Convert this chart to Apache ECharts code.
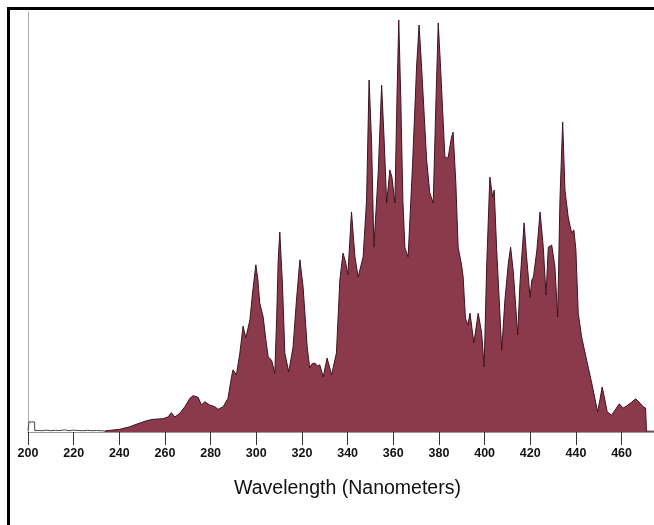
<!DOCTYPE html>
<html>
<head>
<meta charset="utf-8">
<script src="https://cdn.jsdelivr.net/npm/echarts@6/dist/echarts.min.js"></script>
<style>
html,body{margin:0;padding:0;background:#fff;overflow:hidden;}
#chart{position:absolute;left:0;top:0;width:654px;height:525px;}
#frame{position:absolute;left:7px;top:7px;width:800px;height:700px;border-top:3px solid #000;border-left:3px solid #000;pointer-events:none;}
</style>
</head>
<body>
<div id="chart"></div>
<div id="frame"></div>
<script>
// Baseline noise trace (200–234 nm), relative intensity (%)
const noiseWavelengths = [200, 200.4, 200.45, 202.9, 202.95, 204, 206, 208, 210, 212, 214, 216, 218, 220, 222, 224, 226, 228, 230, 232, 233.6];
const noiseValues      = [0.3, 0.3, 2.4, 2.4, 0.3, 0.4, 0.3, 0.45, 0.3, 0.4, 0.35, 0.5, 0.3, 0.45, 0.35, 0.3, 0.4, 0.3, 0.35, 0.3, 0.24];

// Emission spectrum (233.6–474 nm), relative intensity (%)
const wavelengths = [
  233.6, 240.2, 244.6, 249.0, 251.9, 254.8, 259.2, 261.3, 262.8, 264.3,
  266.5, 268.7, 270.9, 272.3, 274.5, 276.0, 277.4, 279.6, 281.8, 283.3,
  285.5, 287.6, 289.1, 289.8, 291.3, 292.8, 294.2, 295.4, 297.2, 298.5,
  299.8, 300.7, 301.5, 303.0, 304.2, 305.2, 306.7, 308.1, 308.9, 309.6,
  310.3, 311.5, 312.5, 314.2, 316.1, 317.6, 319.1, 320.5, 322.3, 323.4,
  324.3, 325.6, 326.9, 327.8, 329.3, 331.0, 333.0, 335.1, 336.6, 338.0,
  339.2, 340.1, 341.7, 343.2, 344.6, 346.8, 348.3, 349.4, 350.5, 351.5,
  353.4, 354.9, 356.0, 357.1, 358.5, 359.4, 360.7, 361.6, 362.4, 363.3,
  364.2, 365.1, 366.5, 368.4, 370.2, 371.3, 372.4, 374.6, 376.0, 377.5,
  378.7, 379.7, 380.7, 382.6, 384.0, 385.5, 386.2, 387.4, 388.4, 389.9,
  390.6, 391.6, 392.7, 393.6, 395.3, 397.2, 398.7, 399.8, 400.9, 402.3,
  403.5, 404.2, 405.3, 407.5, 408.9, 410.4, 411.4, 412.6, 414.5, 415.5,
  417.3, 418.4, 419.9, 420.7, 421.4, 422.9, 424.3, 425.7, 426.9, 427.9,
  429.4, 430.8, 432.0, 433.0, 434.2, 435.2, 436.6, 438.1, 439.1, 440.0,
  441.0, 442.5, 444.7, 446.9, 449.5, 450.5, 451.5, 452.7, 453.7, 455.6,
  457.1, 459.0, 460.7, 462.2, 464.4, 466.2, 468.0, 469.5, 470.5, 470.9,
  474.2
];
const intensities = [
  0.24, 0.64, 1.26, 2.14, 2.69, 3.02, 3.17, 3.57, 4.6, 3.57,
  4.45, 6.02, 8.02, 8.64, 8.26, 6.43, 7.21, 6.43, 6.02, 5.4,
  6.02, 8.02, 13.0, 14.8, 13.6, 18.8, 25.2, 22.4, 26.7, 33.8,
  39.8, 36.2, 30.7, 27.4, 21.9, 17.9, 17.1, 14.0, 26.7, 41.0,
  47.6, 34.5, 18.8, 14.3, 20.2, 31.4, 41.0, 34.5, 20.2, 15.2,
  16.2, 16.4, 15.7, 16.0, 13.1, 17.6, 13.6, 18.8, 36.2, 42.6,
  40.2, 37.4, 52.4, 41.7, 36.9, 41.7, 55.2, 83.8, 68.8, 44.0,
  61.7, 82.6, 69.5, 54.5, 62.4, 60.7, 54.5, 79.0, 98.1, 79.0,
  55.2, 43.8, 41.7, 63.1, 86.9, 96.9, 86.9, 64.8, 56.9, 54.5,
  79.0, 97.4, 86.9, 65.5, 65.2, 70.2, 71.4, 59.3, 44.0, 39.8,
  36.9, 27.1, 25.5, 28.3, 21.2, 28.3, 23.6, 15.5, 39.3, 60.7,
  56.0, 57.6, 43.3, 19.5, 31.4, 40.2, 44.0, 37.9, 23.1, 35.5,
  49.8, 41.7, 32.1, 36.2, 36.9, 43.3, 52.4, 44.0, 32.6, 44.0,
  44.5, 39.3, 27.4, 55.2, 73.8, 57.6, 51.2, 47.4, 48.1, 43.3,
  28.3, 22.6, 17.1, 11.7, 4.8, 7.6, 10.7, 7.6, 4.8, 4.0,
  5.2, 6.7, 5.7, 6.2, 7.1, 7.9, 6.9, 6.0, 5.7, 0.2,
  0.2
];

const tickValues = [200, 220, 240, 260, 280, 300, 320, 340, 360, 380, 400, 420, 440, 460];
const axisTitle = 'Wavelength (Nanometers)';

const chart = echarts.init(document.getElementById('chart'), null, {renderer: 'canvas'});
chart.setOption({
  animation: false,
  backgroundColor: '#fff',
  grid: {left: 28, right: 0, top: 12, bottom: 93, containLabel: false},
  xAxis: {
    type: 'value',
    min: 200, max: 474.2, interval: 20,
    axisLine: {show: true, lineStyle: {color: '#999', width: 1}},
    axisTick: {show: true, length: 13, customValues: tickValues, lineStyle: {color: '#333', width: 1}},
    axisLabel: {show: true, customValues: tickValues, margin: 15, fontFamily: 'Liberation Sans', fontWeight: 'bold', fontSize: 12.5, color: '#111'},
    splitLine: {show: false}
  },
  yAxis: {
    type: 'value', min: 0, max: 100,
    axisLine: {show: true, lineStyle: {color: '#aaa', width: 1}},
    axisTick: {show: false}, axisLabel: {show: false}, splitLine: {show: false}
  },
  graphic: [{
    type: 'text', x: 347.5, y: 489,
    style: {text: axisTitle, fontFamily: 'Liberation Sans', fontSize: 19.5, fill: '#111', textAlign: 'center', textVerticalAlign: 'middle'}
  }],
  series: [
    {
      type: 'line', symbol: 'none', silent: true,
      data: noiseWavelengths.map((w, i) => [w, noiseValues[i]]),
      lineStyle: {color: '#444', width: 1}
    },
    {
      type: 'line', symbol: 'none', silent: true,
      data: wavelengths.map((w, i) => [w, intensities[i]]),
      lineStyle: {color: '#3d1420', width: 1},
      areaStyle: {color: '#8b3a4c', opacity: 1}
    }
  ]
});
</script>
</body>
</html>
